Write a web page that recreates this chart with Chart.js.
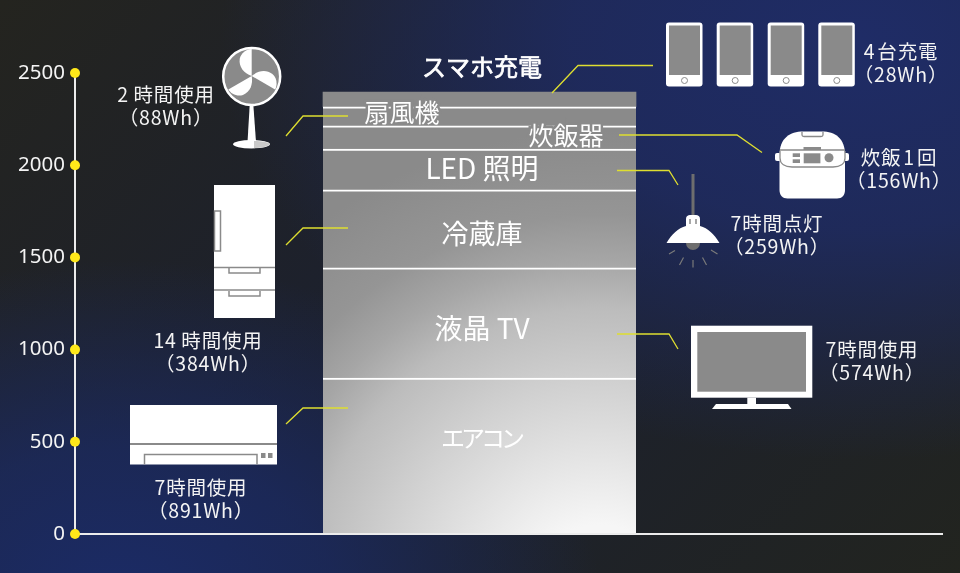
<!DOCTYPE html>
<html lang="ja">
<head>
<meta charset="utf-8">
<title>消費電力量の内訳</title>
<script src="https://cdn.jsdelivr.net/npm/chart.js@4"></script>
<style>
  html, body { margin: 0; padding: 0; }
  body {
    width: 960px; height: 573px; overflow: hidden; position: relative;
    background:
      radial-gradient(ellipse 640px 420px at 860px 40px, #1f2c66 0%, rgba(31,44,102,0.8) 45%, rgba(31,44,102,0) 100%),
      radial-gradient(ellipse 480px 340px at 120px 600px, #1b2b66 0%, rgba(27,43,102,0.7) 45%, rgba(27,43,102,0) 100%),
      linear-gradient(135deg, #24241f 0%, #1b2030 50%, #22241f 100%);
  }
  canvas, svg { position: absolute; left: 0; top: 0; }
</style>
</head>
<body>
<canvas id="chart" width="960" height="573"></canvas>

<!-- icons and leader lines -->
<svg width="960" height="573" viewBox="0 0 960 573">
  <g fill="none" stroke="#dede30" stroke-width="1.300">
    <polyline points="552,93 578,65.5 653,65.5"/>
    <polyline points="286,136 303,116 348,116"/>
    <polyline points="619,135 737,135 762,152.5"/>
    <polyline points="617,170.5 669,170.5 678,185"/>
    <polyline points="286,245 303,228 348,228"/>
    <polyline points="286,424 303,408 348,408"/>
    <polyline points="617,334 669,334 678,349"/>
  </g>

  <!-- fan -->
  <path d="M250 100 L253 100 L256 142 L247.500 142Z" fill="#fff"/>
  <ellipse cx="251.500" cy="144.200" rx="18.500" ry="4.200" fill="#fff"/>
  <path d="M254 141 C262 141 268 142 270 144 C268 146.500 262 148 254 148Z" fill="#c9c9c9"/>
  <circle cx="251.700" cy="76.500" r="28.500" fill="#8a8a8a" stroke="#fff" stroke-width="2.500"/>
  <g fill="#fff" transform="translate(251.700 76)">
    <path d="M0 0 C-8 -3 -13 -9 -12 -17 C-11 -23 -5 -27 0 -27Z"/>
    <path d="M0 0 C-8 -3 -13 -9 -12 -17 C-11 -23 -5 -27 0 -27Z" transform="rotate(120)"/>
    <path d="M0 0 C-8 -3 -13 -9 -12 -17 C-11 -23 -5 -27 0 -27Z" transform="rotate(240)"/>
  </g>

  <!-- fridge -->
  <rect x="214" y="185" width="61" height="133" fill="#fff"/>
  <g fill="none" stroke="#8a8a8a" stroke-width="1.500">
    <rect x="214.500" y="211" width="6" height="40"/>
    <path d="M214 267.500 H275 M214 290 H275"/>
    <path d="M229 268 V273 H260 V268 M229 291 V296 H260 V291"/>
  </g>

  <!-- air conditioner -->
  <rect x="130" y="405" width="147" height="59.500" fill="#fff"/>
  <path d="M130 444 H277" stroke="#8a8a8a" stroke-width="2"/>
  <path d="M144.500 464.500 V454.500 H257 V464.500" fill="none" stroke="#8a8a8a" stroke-width="1.500"/>
  <rect x="261" y="453" width="4.500" height="5" fill="#8a8a8a"/>
  <rect x="268" y="453" width="4.500" height="5" fill="#8a8a8a"/>

  <!-- phones -->
  <g id="phones">
    <g><rect x="666" y="22.500" width="36.500" height="64" rx="3" fill="#fff"/><rect x="669" y="25.500" width="31" height="49.500" fill="#8a8a8a"/><circle cx="684.500" cy="80.500" r="3" fill="none" stroke="#8a8a8a" stroke-width="1"/></g>
    <g transform="translate(50.700 0)"><rect x="666" y="22.500" width="36.500" height="64" rx="3" fill="#fff"/><rect x="669" y="25.500" width="31" height="49.500" fill="#8a8a8a"/><circle cx="684.500" cy="80.500" r="3" fill="none" stroke="#8a8a8a" stroke-width="1"/></g>
    <g transform="translate(101.700 0)"><rect x="666" y="22.500" width="36.500" height="64" rx="3" fill="#fff"/><rect x="669" y="25.500" width="31" height="49.500" fill="#8a8a8a"/><circle cx="684.500" cy="80.500" r="3" fill="none" stroke="#8a8a8a" stroke-width="1"/></g>
    <g transform="translate(152.300 0)"><rect x="666" y="22.500" width="36.500" height="64" rx="3" fill="#fff"/><rect x="669" y="25.500" width="31" height="49.500" fill="#8a8a8a"/><circle cx="684.500" cy="80.500" r="3" fill="none" stroke="#8a8a8a" stroke-width="1"/></g>
  </g>

  <!-- rice cooker -->
  <rect x="775" y="153" width="74" height="8" rx="2" fill="#fff"/>
  <path d="M779.500 155 C779.500 138 790 131.500 803 131.500 H822 C835 131.500 845 138 845 155 V190 C845 195 842 198.500 837 198.500 H787.500 C782.500 198.500 779.500 195 779.500 190Z" fill="#fff"/>
  <path d="M802 132 V135 C802 136 803 136.500 804 136.500 H821 C822 136.500 823 136 823 135 V132" fill="none" stroke="#8a8a8a" stroke-width="1.300"/>
  <path d="M780 150 H845 M780 151 V158 C780 164 785 167 792 167 H833 C840 167 845 164 845 158 V151" fill="none" stroke="#8a8a8a" stroke-width="1.300"/>
  <rect x="803.500" y="147" width="17.500" height="3" fill="#8a8a8a"/>
  <rect x="803.700" y="153.300" width="16.700" height="10" fill="#8a8a8a"/>
  <rect x="792.700" y="153.300" width="7.300" height="3.700" fill="#8a8a8a"/>
  <rect x="792.700" y="159.300" width="7.300" height="3.700" fill="#8a8a8a"/>
  <circle cx="829" cy="157.800" r="4.500" fill="#8a8a8a"/>

  <!-- lamp -->
  <path d="M693 174 V216" stroke="#6e6e6e" stroke-width="3"/>
  <circle cx="693" cy="243" r="7" fill="#6e6e6e"/>
  <path d="M686 226 V219 C686 216 688 215 690 215 H696 C698 215 700 216 700 219 V226 C708 228 714 234 719.500 243 H666.500 C672 234 678 228 686 226Z" fill="#fff"/>
  <path d="M690 219 V224 M696 219 V224" stroke="#8a8a8a" stroke-width="1.500"/>
  <path d="M675 250.500 L669 254 M683.500 257.500 L679.500 265 M693 260 V267.500 M702.500 257.500 L706.500 265 M711 250 L717.500 254" stroke="#7a7a7a" stroke-width="1.200"/>

  <!-- tv -->
  <rect x="691" y="325.700" width="121.300" height="72" fill="#fff"/>
  <rect x="697.300" y="332" width="108.700" height="59.700" fill="#8a8a8a"/>
  <rect x="747.300" y="397.700" width="8.700" height="7" fill="#fff"/>
  <path d="M716 404 H788 L791.500 409 H712Z" fill="#fff"/>
</svg>

<script>
// y values read off the axis from the height of each band (bands are not drawn to the Wh in the captions)
const segmentNames = ['エアコン', '液晶 TV', '冷蔵庫', 'LED 照明', '炊飯器', '扇風機', 'スマホ充電'];
const segmentValues = [846, 597, 423, 222, 125, 103, 81];

// captions next to the icons
const usageLabels = ['7時間使用', '7時間使用', '14\u2009時間使用', '7時間点灯', '炊飯\u200a1\u200a回', '2\u2009時間使用', '4\u200a台充電'];
const wattHours = [891, 574, 384, 259, 156, 88, 28];

const yTicks = [0, 500, 1000, 1500, 2000, 2500];

const WHITE = '#ffffff';
const JP_FONT = '"Noto Sans CJK JP", "Noto Sans", sans-serif';

// where the band names and captions sit, same order as the arrays above
const nameSpots = [[481, 438], [482, 328], [482, 234], [482, 168], [566, 135], [402, 112], [482, 67]];
const nameFonts = ['400 24px ', '400 28px ', '400 27px ', '400 28px ', '400 25px ', '400 25px ', '400 24px '];
const captionSpots = [[201, 488], [872, 350], [208, 341], [777, 224], [899, 158], [166, 95], [901, 52]];

let barGradient = null;
function getBarGradient(chart) {
  if (!barGradient) {
    barGradient = chart.ctx.createRadialGradient(600, 600, 0, 600, 600, 470);
    barGradient.addColorStop(0.16, '#f6f6f6');
    barGradient.addColorStop(0.45, '#d2d2d2');
    barGradient.addColorStop(0.62, '#bcbcbc');
    barGradient.addColorStop(0.72, '#a6a6a6');
    barGradient.addColorStop(0.82, '#959595');
    barGradient.addColorStop(1, '#8a8a8a');
  }
  return barGradient;
}

const overlayPlugin = {
  id: 'overlay',
  afterDraw(chart) {
    const { ctx, chartArea, scales } = chart;
    ctx.save();

    // baseline runs past the plot area on the right
    ctx.strokeStyle = '#ececec';
    ctx.lineWidth = 2;
    ctx.beginPath();
    ctx.moveTo(chartArea.left, chartArea.bottom);
    ctx.lineTo(943, chartArea.bottom);
    ctx.stroke();

    // yellow dots on the ticks
    ctx.fillStyle = '#ffe81a';
    yTicks.forEach(v => {
      ctx.beginPath();
      ctx.arc(chartArea.left, scales.y.getPixelForValue(v), 5, 0, Math.PI * 2);
      ctx.fill();
    });

    ctx.textAlign = 'center';
    ctx.textBaseline = 'middle';

    // band names
    segmentNames.forEach((name, i) => {
      const [x, y] = nameSpots[i];
      ctx.font = nameFonts[i] + JP_FONT;
      ctx.letterSpacing = i === 0 ? '-4px' : '0px';
      if (i === 4 || i === 5) {
        // these two sit on a separator line, so knock it out behind the upper half of the text only
        ctx.save();
        ctx.beginPath();
        ctx.rect(x - 60, y - 30, 120, 34);
        ctx.clip();
        ctx.strokeStyle = '#8a8a8a';
        ctx.lineWidth = 5;
        ctx.strokeText(name, x, y);
        ctx.restore();
      }
      ctx.fillStyle = WHITE;
      ctx.fillText(name, x, y);
      if (i === segmentNames.length - 1) {
        // the title is a bit heavier than regular but not full bold
        ctx.strokeStyle = WHITE;
        ctx.lineWidth = 0.7;
        ctx.strokeText(name, x, y);
      }
    });

    // captions
    ctx.fillStyle = '#f4f4f4';
    ctx.font = '400 19.5px ' + JP_FONT;
    ctx.letterSpacing = '0.8px';
    usageLabels.forEach((label, i) => {
      const [x, y] = captionSpots[i];
      ctx.fillText(label, x, y);
      ctx.fillText('（' + wattHours[i] + 'Wh）', x, y + 23);
    });
    ctx.restore();
  }
};

new Chart(document.getElementById('chart'), {
  type: 'bar',
  data: {
    labels: [''],
    datasets: segmentValues.map((v, i) => ({
      label: segmentNames[i],
      data: [v],
      backgroundColor: ctx => getBarGradient(ctx.chart),
      borderColor: WHITE,
      borderWidth: i === segmentValues.length - 1 ? 0 : { top: 2 },
      borderSkipped: false,
      barThickness: 313
    }))
  },
  options: {
    responsive: false,
    animation: false,
    layout: { padding: { left: 15, right: 76, top: 73, bottom: 39 } },
    plugins: { legend: { display: false }, tooltip: { enabled: false } },
    scales: {
      x: { stacked: true, display: false },
      y: {
        stacked: true,
        min: 0,
        max: 2500,
        afterFit: scale => { scale.width = 60; },
        afterBuildTicks: scale => { scale.ticks = yTicks.map(value => ({ value })); },
        grid: { display: false, drawTicks: false },
        border: { display: true, color: '#ececec', width: 2 },
        ticks: {
          color: '#f4f4f4',
          padding: 10,
          callback: value => String(value),
          font: { family: '"Noto Sans", sans-serif', size: 20.5 }
        }
      }
    }
  },
  plugins: [overlayPlugin]
});
</script>
</body>
</html>
